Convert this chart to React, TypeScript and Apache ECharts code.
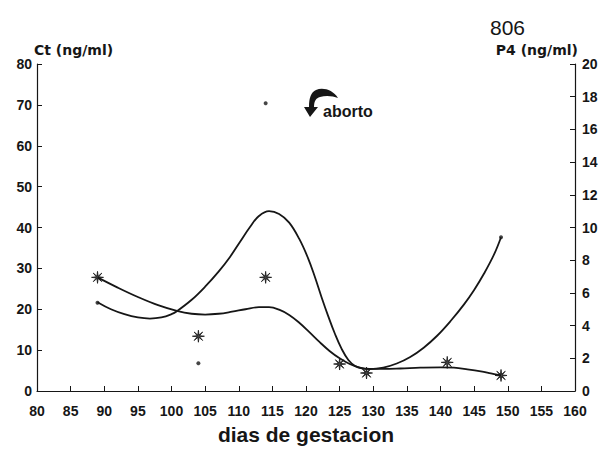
import React, { useEffect, useRef } from "react";
import * as echarts from "echarts";

// Ct (ng/ml) – asterisks, left axis
const ctDays = [89, 104, 114, 125, 129, 141, 149];
const ctValues = [27.8, 13.4, 27.8, 6.6, 4.4, 7.0, 3.8];
// P4 (ng/ml) – dots, right axis
const p4Days = [89, 104, 114, 149];
const p4Values = [5.4, 1.7, 17.6, 9.4];
// fitted Ct curve (left axis)
const ctCurveDays = [89, 92, 95, 98, 100.8, 103, 105, 107, 109, 111, 113, 114.5, 116, 117.5, 119, 120.5, 122, 123.5, 125, 126.5, 128, 129.5, 131.5, 134, 137, 140, 142, 144, 146, 147.5, 149];
const ctCurveValues = [27.8, 25.3, 23.0, 21.0, 19.6, 18.9, 18.7, 18.9, 19.4, 20.0, 20.5, 20.5, 19.9, 18.6, 16.7, 14.4, 12.0, 9.8, 8.0, 6.6, 5.7, 5.4, 5.4, 5.5, 5.7, 5.8, 5.7, 5.3, 4.8, 4.3, 3.8];
// fitted P4 curve (right axis)
const p4CurveDays = [89, 91, 93, 95, 96.8, 98.5, 100, 100.8, 103, 105, 107, 108.7, 110.2, 111.7, 113, 114.5, 116, 117.5, 119, 120.3, 121.3, 122.3, 123.3, 124.3, 125.3, 126.3, 127.3, 128.3, 129.5, 131.5, 133.5, 135.5, 137.5, 139.5, 141.5, 143.5, 145, 146.5, 148, 149];
const p4CurveValues = [5.43, 5.0, 4.7, 4.5, 4.43, 4.5, 4.7, 4.88, 5.58, 6.38, 7.3, 8.2, 9.13, 10.05, 10.7, 11.0, 10.83, 10.3, 9.3, 8.13, 7.0, 5.75, 4.58, 3.5, 2.58, 1.9, 1.53, 1.38, 1.34, 1.43, 1.68, 2.08, 2.65, 3.38, 4.28, 5.3, 6.18, 7.2, 8.38, 9.4];

const titleText = "806";
const xName = "dias de gestacion";
const leftName = "Ct (ng/ml)";
const rightName = "P4 (ng/ml)";
const noteText = "aborto";

const ASTERISK =
  "path://M10,0 L11,8 L17.07,2.93 L12,9 L20,10 L12,11 L17.07,17.07 L11,12 L10,20 L9,12 L2.93,17.07 L8,11 L0,10 L8,9 L2.93,2.93 L9,8 Z";

const ARROW_D =
  "M35,10 C30,2 20,-1 13,2 C8,4 6,10 6,19 L1,19 L7,29 L15,19 L11,19 C11,13 13,10 17,9 C23,7 30,8 35,10 Z";

let registered = false;

export default function App() {
  const ref = useRef<HTMLDivElement>(null);
  useEffect(() => {
    document.body.style.margin = "0";
    if (!registered) {
      echarts.graphic.registerShape("abortArrow", echarts.graphic.extendPath(ARROW_D, {}) as any);
      registered = true;
    }
    const chart = echarts.init(ref.current!, undefined, { renderer: "svg" });
    const ink = "#161616";
    const font = "Liberation Sans, Arial, sans-serif";
    const tickLabel = { color: ink, fontFamily: font, fontWeight: "bold" as const, fontSize: 14 };
    chart.setOption({
      animation: false,
      backgroundColor: "#ffffff",
      title: {
        text: titleText,
        left: 485,
        top: 12,
        textStyle: { color: ink, fontFamily: font, fontWeight: "normal", fontSize: 21 },
      },
      grid: { left: 37, right: 29, top: 64, bottom: 56, containLabel: false },
      xAxis: {
        type: "value",
        min: 80,
        max: 160,
        interval: 5,
        name: xName,
        nameLocation: "middle",
        nameGap: 33,
        nameTextStyle: { color: ink, fontFamily: font, fontWeight: "bold", fontSize: 21 },
        axisLine: { show: true, lineStyle: { color: ink, width: 1.2 } },
        axisTick: { show: true, inside: true, length: 5, lineStyle: { color: ink } },
        axisLabel: { ...tickLabel, margin: 13 },
        splitLine: { show: false },
      },
      yAxis: [
        {
          type: "value",
          min: 0,
          max: 80,
          interval: 10,
          position: "left",
          name: leftName,
          nameLocation: "end",
          nameGap: 5,
          nameTextStyle: {
            color: ink,
            fontFamily: "DejaVu Sans, sans-serif",
            fontWeight: "bold",
            fontSize: 14,
            align: "left",
            padding: [0, 0, 0, -3],
          },
          axisLine: { show: true, lineStyle: { color: ink, width: 1.2 } },
          axisTick: { show: true, inside: true, length: 5, lineStyle: { color: ink } },
          axisLabel: { ...tickLabel, margin: 5 },
          splitLine: { show: false },
        },
        {
          type: "value",
          min: 0,
          max: 20,
          interval: 2,
          position: "right",
          name: rightName,
          nameLocation: "end",
          nameGap: 5,
          nameTextStyle: {
            color: ink,
            fontFamily: "DejaVu Sans, sans-serif",
            fontWeight: "bold",
            fontSize: 14,
            align: "right",
            padding: [0, -3, 0, 0],
          },
          axisLine: { show: true, lineStyle: { color: ink, width: 1.2 } },
          axisTick: { show: true, inside: true, length: 5, lineStyle: { color: ink } },
          axisLabel: { ...tickLabel, margin: 7 },
          splitLine: { show: false },
        },
      ],
      series: [
        {
          type: "line",
          yAxisIndex: 0,
          data: ctCurveDays.map((d, i) => [d, ctCurveValues[i]]),
          smooth: 0.4,
          symbol: "none",
          lineStyle: { color: ink, width: 1.8 },
          z: 2,
        },
        {
          type: "line",
          yAxisIndex: 1,
          data: p4CurveDays.map((d, i) => [d, p4CurveValues[i]]),
          smooth: 0.4,
          symbol: "none",
          lineStyle: { color: ink, width: 1.8 },
          z: 2,
        },
        {
          type: "scatter",
          yAxisIndex: 0,
          data: ctDays.map((d, i) => [d, ctValues[i]]),
          symbol: ASTERISK,
          symbolSize: 12,
          itemStyle: { color: ink, borderColor: ink, borderWidth: 1 },
          z: 3,
        },
        {
          type: "scatter",
          yAxisIndex: 1,
          data: p4Days.map((d, i) => [d, p4Values[i]]),
          symbol: "circle",
          symbolSize: 4,
          itemStyle: { color: ink },
          z: 3,
        },
      ],
      graphic: [
        {
          type: "abortArrow",
          x: 303,
          y: 88,
          style: { fill: ink },
        },
        {
          type: "text",
          x: 323,
          y: 111,
          style: {
            text: noteText,
            fill: ink,
            font: "bold 16px Liberation Sans, Arial, sans-serif",
            verticalAlign: "middle",
          },
        },
      ],
    });
    return () => chart.dispose();
  }, []);
  return <div ref={ref} style={{ width: 604, height: 450 }} />;
}
